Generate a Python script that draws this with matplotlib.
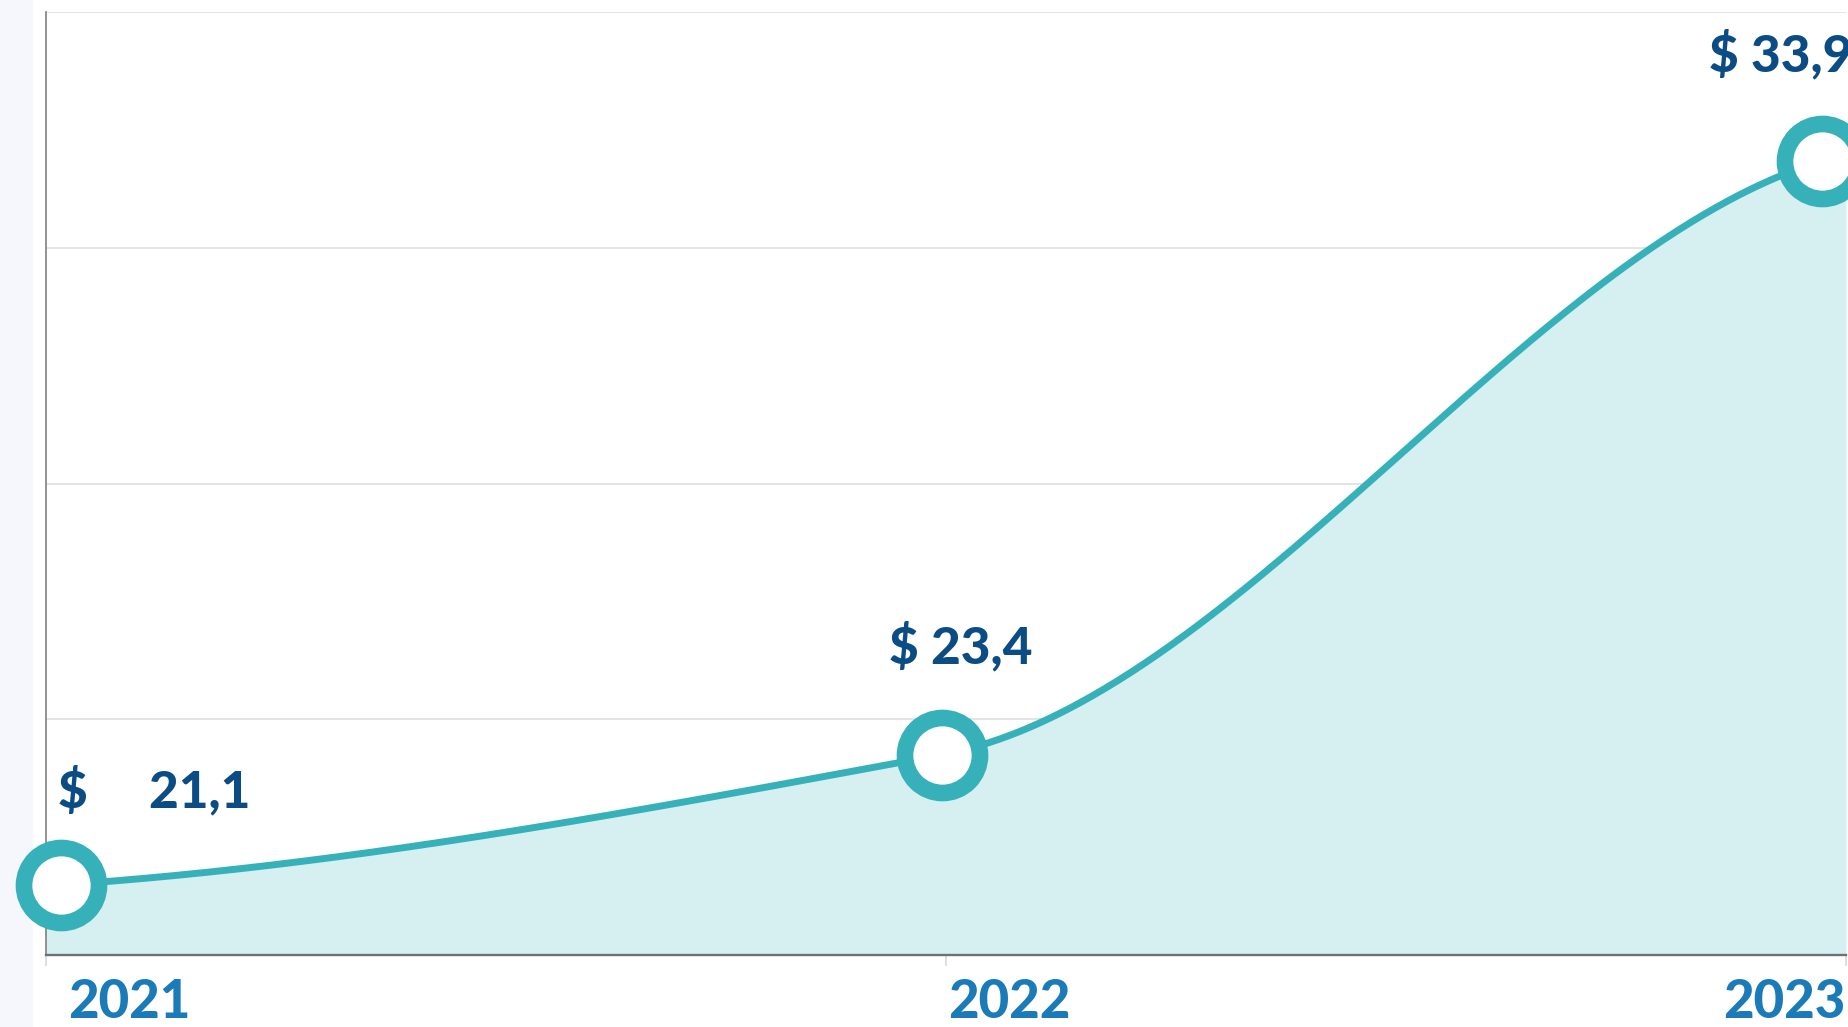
import numpy as np
import matplotlib.pyplot as plt
from matplotlib.patches import Rectangle

# data
years = ["2021", "2022", "2023"]
values = [21.1, 23.4, 33.9]
value_labels = ["$     21,1", "$ 23,4", "$ 33,9"]

LINE = "#36b1b9"
FILL = "#d6eff0"
VAL_COLOR = "#0b4c84"
YEAR_COLOR = "#1a7bb8"
FONT = "Lato"


def cardinal(xs, ys, tension=0.55, steps=200):
    """Cardinal (Hermite) spline through the points."""
    xs = np.asarray(xs, float)
    ys = np.asarray(ys, float)
    n = len(xs)
    m = np.zeros(n)
    m[0] = (ys[1] - ys[0]) / (xs[1] - xs[0])
    m[-1] = (ys[-1] - ys[-2]) / (xs[-1] - xs[-2])
    for i in range(1, n - 1):
        m[i] = (ys[i + 1] - ys[i - 1]) / (xs[i + 1] - xs[i - 1])
    m *= (1 - tension)
    out_x, out_y = [], []
    for i in range(n - 1):
        h = xs[i + 1] - xs[i]
        t = np.linspace(0, 1, steps)
        if i > 0:
            t = t[1:]
        h00 = 2 * t ** 3 - 3 * t ** 2 + 1
        h10 = t ** 3 - 2 * t ** 2 + t
        h01 = -2 * t ** 3 + 3 * t ** 2
        h11 = t ** 3 - t ** 2
        out_x.append(xs[i] + t * h)
        out_y.append(h00 * ys[i] + h10 * h * m[i] + h01 * ys[i + 1] + h11 * h * m[i + 1])
    return np.concatenate(out_x), np.concatenate(out_y)


x = np.arange(len(years))
cx, cy = cardinal(x, values)

fig = plt.figure(figsize=(18.48, 10.27), dpi=100)
fig.patches.append(Rectangle((0, 0), 32 / 1848, 1, transform=fig.transFigure,
                             color="#f5f7fc", zorder=-5))
ax = fig.add_axes([46 / 1848, 72 / 1027, 1800 / 1848, 943 / 1027])
ax.patch.set_alpha(0)

ymin, ymax = 19.86, 36.53
xmin, xmax = -0.017, 2.027
ax.set_xlim(xmin, xmax)
ax.set_ylim(ymin, ymax)

# area reaches the plot edges, like the original
fx = np.concatenate([[xmin], cx, [xmax]])
fy = np.concatenate([[cy[0]], cy, [cy[-1]]])
ax.fill_between(fx, fy, ymin, color=FILL, lw=0, zorder=1)
ax.plot(cx, cy, color=LINE, lw=5, zorder=3, solid_capstyle="round")
ax.plot(x, values, "o", ms=54, mfc="white", mec=LINE, mew=12,
        zorder=4, clip_on=False)

# gridlines, no y labels
ax.set_yticks(np.linspace(ymin, ymax, 5))
ax.set_yticklabels([])
ax.tick_params(axis="y", length=0)
ax.grid(axis="y", color="#dddddd", lw=1.1)
ax.set_axisbelow(True)

ax.set_xticks([xmin, 1.005, xmax])
ax.set_xticklabels([])
ax.tick_params(axis="x", length=8, width=1.2, color="#d8d8d8")

for s in ["top", "right"]:
    ax.spines[s].set_visible(False)
ax.spines["left"].set_color("#808080")
ax.spines["left"].set_linewidth(1.2)
ax.spines["bottom"].set_color("#6e7072")
ax.spines["bottom"].set_linewidth(1.7)

# value labels
val_offsets = [(-2, 56, "left"), (14, 66, "center"), (-30, 64, "center")]
for xi, v, lab, (dx, dy, ha) in zip(x, values, value_labels, val_offsets):
    ax.annotate(lab, (xi, v), xytext=(dx, dy), textcoords="offset points",
                ha=ha, va="baseline", fontsize=37, fontweight="black",
                family=FONT, color=VAL_COLOR, zorder=5, annotation_clip=False)

# year labels
year_offsets = [(5, "left"), (5, "left"), (17, "right")]
for xi, yr, (dx, ha) in zip(x, years, year_offsets):
    ax.annotate(yr, (xi, 0), xycoords=("data", "axes fraction"),
                xytext=(dx, -45), textcoords="offset points",
                ha=ha, va="baseline", fontsize=38, fontweight="black",
                family=FONT, color=YEAR_COLOR, annotation_clip=False)

fig.savefig("out.png", dpi=100)
